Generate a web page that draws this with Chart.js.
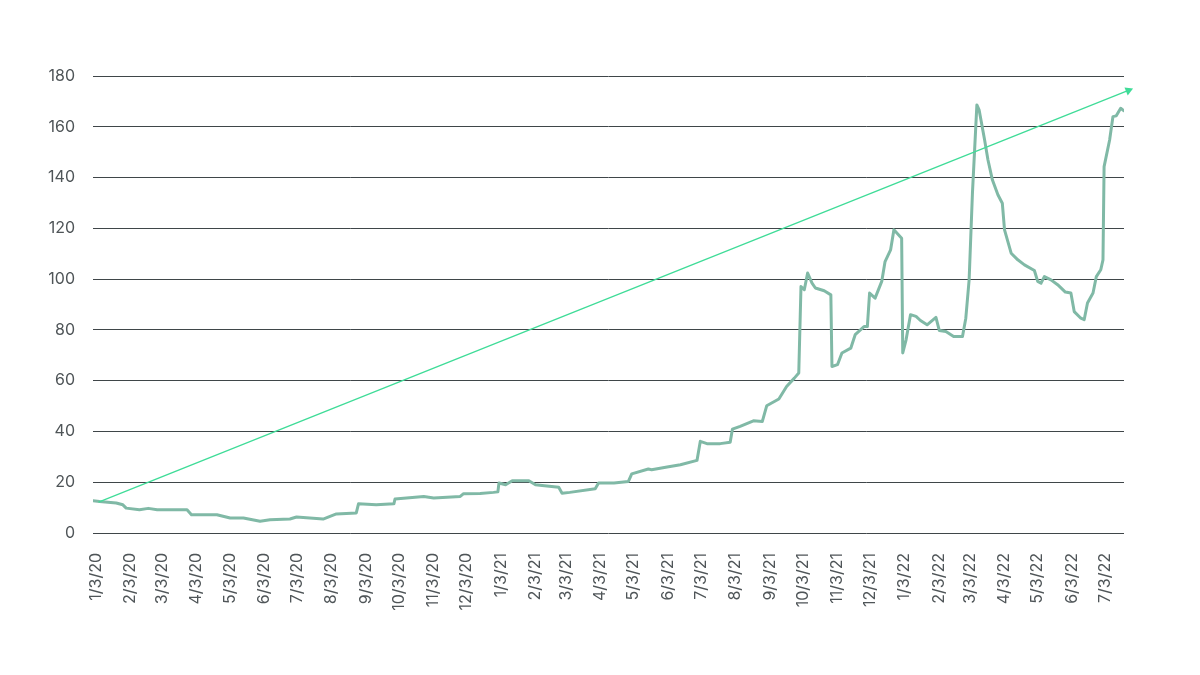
<!DOCTYPE html>
<html>
<head>
<meta charset="utf-8">
<script src="https://cdn.jsdelivr.net/npm/chart.js@4.4.1/dist/chart.umd.min.js"></script>
<style>
  html, body { margin: 0; padding: 0; background: #ffffff; }
  #wrap { width: 1200px; height: 675px; position: relative; }
</style>
</head>
<body>
<div id="wrap"><canvas id="c" width="1200" height="675"></canvas></div>
<script>
// Days elapsed since 1/3/20 for each reading, and the reading
const dayOffsets = [0,6,21,27,30,42,50,58,85,89,112,124,136,151,160,178,184,196,208,220,238,240,256,272,273,299,308,332,335,350,362,366,367,373,379,394,400,406,421,424,431,454,457,471,484,487,502,505,519,531,546,549,555,567,576,578,585,597,605,609,620,627,634,638,640,643,646,650,653,661,667,668,673,677,685,689,697,700,702,707,713,716,721,724,731,732,735,739,744,748,754,762,765,771,778,786,789,792,795,799,801,806,809,813,818,822,824,830,836,842,851,854,857,860,866,872,879,884,887,893,896,899,904,907,911,913,914,919,922,925,929,932];
const seriesValues = [12.7,12.4,11.8,11.1,9.8,9.2,9.7,9.2,9.2,7.2,7.2,5.9,5.9,4.6,5.2,5.5,6.3,5.9,5.5,7.5,7.9,11.5,11.1,11.5,13.4,14.4,13.8,14.4,15.5,15.6,16.0,16.2,19.7,19.0,20.6,20.6,19.0,18.7,18.0,15.7,16.0,17.4,19.7,19.7,20.3,23.3,25.2,24.9,26.0,26.9,28.6,36.1,35.2,35.2,35.7,40.9,42.0,44.2,43.9,50.1,52.8,57.7,61.0,63.0,97.1,95.8,102.4,98.4,96.5,95.4,93.8,65.6,66.3,70.9,72.8,78.1,81.3,81.3,94.5,92.5,99.1,106.9,111.5,119.4,116.1,70.9,76.1,86.0,85.3,83.7,82.0,84.9,79.8,79.4,77.4,77.4,84.6,99.7,133.9,168.6,166.7,154.8,147.0,139.1,133.2,129.9,119.4,110.2,107.6,105.6,103.4,99.1,98.4,101.0,99.7,97.8,94.9,94.5,87.2,84.6,84.0,90.6,94.5,101.0,103.7,107.6,144.3,154.8,164.0,164.3,167.3,166.3];

// Trend arrow: start and end (day offset, value)
const trendDays = [5, 936];
const trendValues = [12.2, 174.3];

// X-axis tick labels
const xTickLabels = ['1/3/20','2/3/20','3/3/20','4/3/20','5/3/20','6/3/20','7/3/20','8/3/20','9/3/20','10/3/20','11/3/20','12/3/20',
  '1/3/21','2/3/21','3/3/21','4/3/21','5/3/21','6/3/21','7/3/21','8/3/21','9/3/21','10/3/21','11/3/21','12/3/21',
  '1/3/22','2/3/22','3/3/22','4/3/22','5/3/22','6/3/22','7/3/22'];
const yTicks = [0,20,40,60,80,100,120,140,160,180];

const baseDate = Date.UTC(2020, 0, 3);
function labelToDay(s) {
  const p = s.split('/');
  return Math.round((Date.UTC(2000 + (+p[2]), (+p[0]) - 1, +p[1]) - baseDate) / 86400000);
}
const xTickDays = xTickLabels.map(labelToDay);
const tickMap = {};
xTickDays.forEach((d, i) => { tickMap[d] = xTickLabels[i]; });

const mainData = dayOffsets.map((d, i) => ({ x: d, y: seriesValues[i] }));
const trendData = trendDays.map((d, i) => ({ x: d, y: trendValues[i] }));

const FONT = 'Inter, "Open Sans", sans-serif';

new Chart(document.getElementById('c'), {
  type: 'line',
  data: {
    datasets: [
      {
        data: trendData,
        borderColor: '#3fdc98',
        backgroundColor: '#3fdc98',
        borderWidth: 1.3,
        pointRadius: [0, 5],
        pointHoverRadius: 0,
        pointStyle: 'triangle',
        pointBorderWidth: 0,
        pointRotation: function(ctx) {
          const ch = ctx.chart;
          const xs = ch.scales.x, ys = ch.scales.y;
          if (!xs || !ys) return 68;
          const x0 = xs.getPixelForValue(trendDays[0]), y0 = ys.getPixelForValue(trendValues[0]);
          const x1 = xs.getPixelForValue(trendDays[1]), y1 = ys.getPixelForValue(trendValues[1]);
          const ang = Math.atan2(y1 - y0, x1 - x0) * 180 / Math.PI;
          return ang + 90;
        },
        clip: false,
        tension: 0,
        order: 0
      },
      {
        data: mainData,
        borderColor: '#80b9a6',
        borderWidth: 3,
        pointRadius: 0,
        tension: 0,
        borderJoinStyle: 'round',
        borderCapStyle: 'round',
        order: 1
      }
    ]
  },
  options: {
    responsive: false,
    animation: false,
    devicePixelRatio: 1,
    layout: { padding: { left: 0, right: 76, top: 76, bottom: 0 } },
    plugins: { legend: { display: false }, tooltip: { enabled: false } },
    scales: {
      x: {
        type: 'linear',
        min: 0,
        max: 932,
        grid: { display: false },
        border: { display: false },
        afterBuildTicks: function(scale) {
          scale.ticks = xTickDays.map(v => ({ value: v }));
        },
        afterFit: function(scale) { scale.height = 142; },
        ticks: {
          autoSkip: false,
          maxRotation: 90,
          minRotation: 90,
          padding: 12,
          labelOffset: 3,
          color: '#4f5558',
          font: { family: FONT, size: 16 },
          callback: function(v) { return tickMap[v] !== undefined ? tickMap[v] : ''; }
        }
      },
      y: {
        min: 0,
        max: 180,
        afterBuildTicks: function(scale) {
          scale.ticks = yTicks.map(v => ({ value: v }));
        },
        afterFit: function(scale) { scale.width = 93; },
        grid: { color: '#3f4649', lineWidth: 1, drawTicks: false },
        border: { display: false },
        ticks: {
          padding: 18,
          color: '#4f5558',
          font: { family: FONT, size: 16 }
        }
      }
    }
  }
});
</script>
</body>
</html>
